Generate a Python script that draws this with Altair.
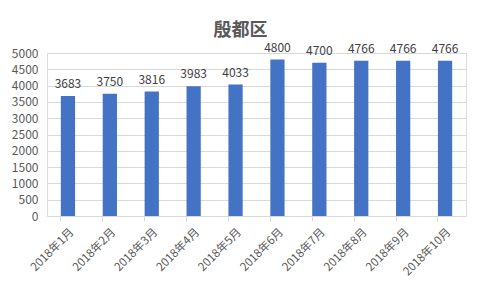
import altair as alt
import pandas as pd

months = ["2018年1月", "2018年2月", "2018年3月", "2018年4月", "2018年5月",
          "2018年6月", "2018年7月", "2018年8月", "2018年9月", "2018年10月"]
prices = [3683, 3750, 3816, 3983, 4033, 4800, 4700, 4766, 4766, 4766]

df = pd.DataFrame({"month": months, "price": prices})
FONT = "Noto Sans CJK SC"
GREY = "#595959"

base = alt.Chart(df).encode(
    x=alt.X("month:N", sort=months, title=None,
            scale=alt.Scale(paddingInner=0.66, paddingOuter=0.33),
            axis=alt.Axis(labelAngle=-45, labelFont=FONT, labelFontSize=11.5,
                          labelColor=GREY, domainColor="#D9D9D9", tickColor="#D9D9D9",
                          tickSize=5, bandPosition=0, labelPadding=5,
                          labelAlign="right", labelBaseline="top")),
    y=alt.Y("price:Q", title=None,
            scale=alt.Scale(domain=[0, 5000]),
            axis=alt.Axis(values=list(range(0, 5001, 500)), format="d", labelFont=FONT,
                          labelFontSize=12, labelColor=GREY, domain=False,
                          ticks=False, labelPadding=9, gridColor="#D9D9D9")),
)

bars = base.mark_bar(color="#4472C4")
labels = base.mark_text(baseline="bottom", dy=-5, font=FONT, fontSize=12,
                        color="#404040").encode(text="price:Q")

chart = (bars + labels).properties(
    width=419, height=163,
    autosize=alt.AutoSizeParams(type="none"),
    padding={"left": 47, "top": 53, "right": 15, "bottom": 73},
    title=alt.TitleParams("殷都区", font=FONT, fontSize=18, fontWeight="bold",
                          color=GREY, anchor="middle", dx=-16, offset=2),
).configure_view(stroke=None).configure(background="white")

chart.save("out.html", embed_options={"renderer": "svg", "actions": False})
